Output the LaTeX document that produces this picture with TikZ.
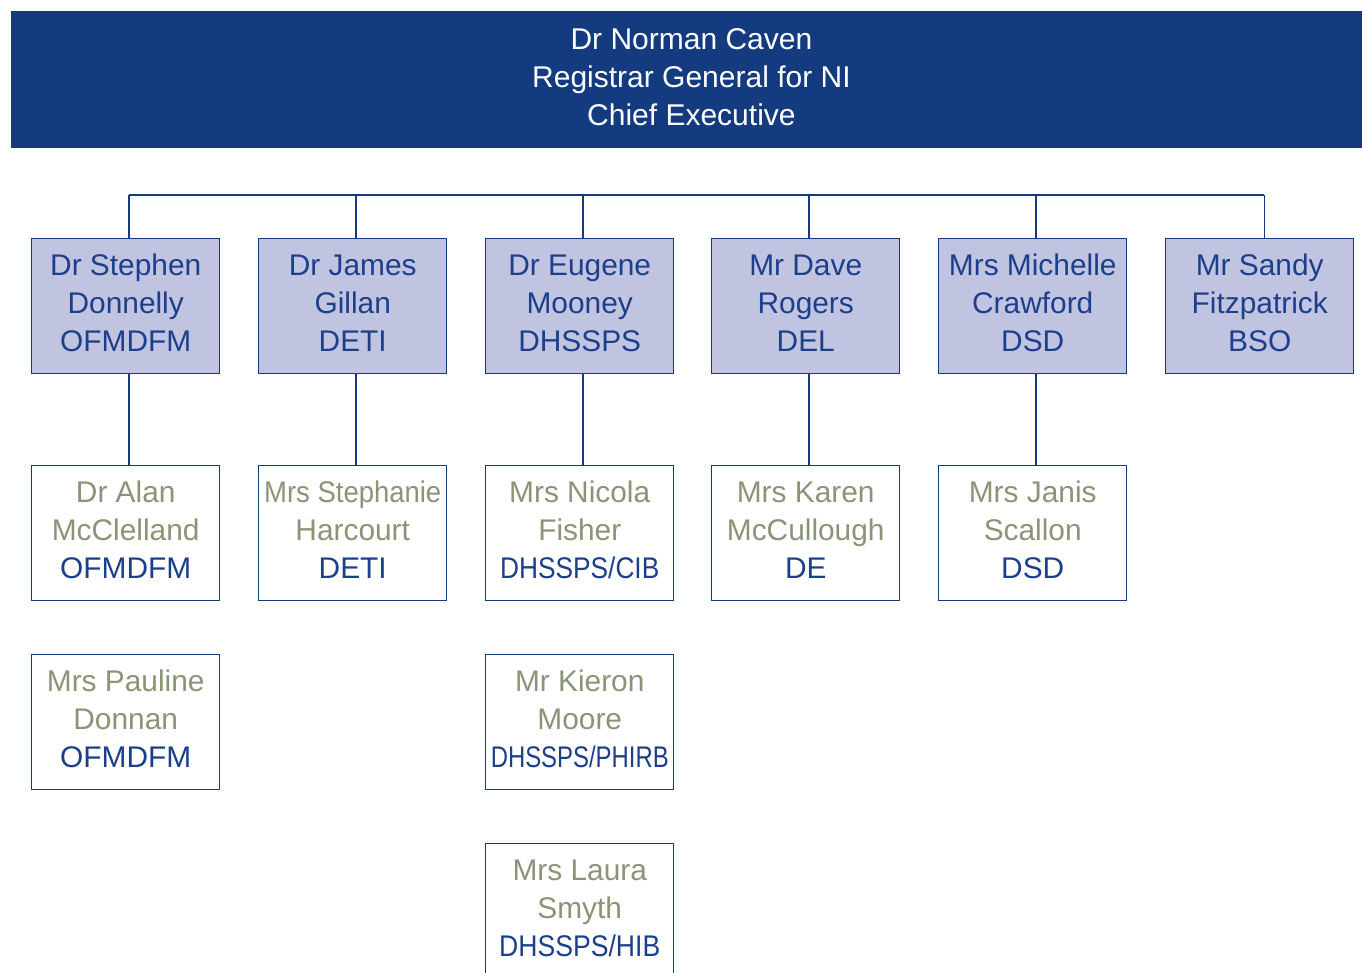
\documentclass[tikz,border=0pt]{standalone}
\usepackage{fontspec}
\usepackage{graphicx}
\setmainfont{Liberation Sans}
\definecolor{navy}{HTML}{143A80}
\definecolor{lav}{HTML}{C1C4E0}
\definecolor{olive}{HTML}{8A9577}
\definecolor{dept}{HTML}{1C3F8C}
\newcommand{\bxt}[1]{\raisebox{2.1pt}{\begin{tabular}{@{}c@{}}#1\end{tabular}}}
\begin{document}
\begin{tikzpicture}[x=0.75pt,y=-0.75pt,
  box/.style={draw=navy, line width=1.1pt, minimum width=141pt, minimum height=101.25pt,
    inner sep=0pt, align=center, font=\fontsize{22.4}{28.5}\selectfont, anchor=north west},
  headbox/.style={box, fill=lav, text=dept},
  subbox/.style={box, fill=white, text=olive},
  link/.style={draw=navy, line width=1.1pt}]
\useasboundingbox (0,0) rectangle (1362,972);
\clip (0,0) rectangle (1362,972);
\node[fill=navy, draw=none, minimum width=1013.25pt, minimum height=102.75pt, inner sep=0pt,
  anchor=north west, text=white, align=center, font=\fontsize{22.5}{28.8}\selectfont]
  (top) at (11,11) {\hspace*{7pt}\raisebox{2.3pt}{\begin{tabular}{@{}c@{}}Dr Norman Caven\\Registrar General for NI\\Chief Executive\end{tabular}}};
% row 1
\node[headbox] (s1) at (31,238)   {\bxt{Dr Stephen\\Donnelly\\OFMDFM}};
\node[headbox] (s2) at (258,238)  {\bxt{Dr James\\Gillan\\DETI}};
\node[headbox] (s3) at (485,238)  {\bxt{Dr Eugene\\Mooney\\DHSSPS}};
\node[headbox] (s4) at (711,238)  {\bxt{Mr Dave\\Rogers\\DEL}};
\node[headbox] (s5) at (938,238)  {\bxt{Mrs Michelle\\Crawford\\DSD}};
\node[headbox] (s6) at (1165,238) {\bxt{Mr Sandy\\Fitzpatrick\\BSO}};
% row 2
\node[subbox] (a1) at (31,465)  {\bxt{Dr Alan\\McClelland\\\textcolor{dept}{OFMDFM}}};
\node[subbox] (a2) at (258,465) {\bxt{\scalebox{0.92}[1]{Mrs Stephanie}\\Harcourt\\\textcolor{dept}{DETI}}};
\node[subbox] (a3) at (485,465) {\bxt{Mrs Nicola\\Fisher\\\textcolor{dept}{\scalebox{0.88}[1]{DHSSPS/CIB}}}};
\node[subbox] (a4) at (711,465) {\bxt{Mrs Karen\\McCullough\\\textcolor{dept}{DE}}};
\node[subbox] (a5) at (938,465) {\bxt{Mrs Janis\\Scallon\\\textcolor{dept}{DSD}}};
% row 3
\node[subbox] (b1) at (31,654)  {\bxt{Mrs Pauline\\Donnan\\\textcolor{dept}{OFMDFM}}};
\node[subbox] (b3) at (485,654) {\bxt{Mr Kieron\\Moore\\\textcolor{dept}{\scalebox{0.8}[1]{DHSSPS/PHIRB}}}};
% row 4
\node[subbox] (c3) at (485,843) {\bxt{Mrs Laura\\Smyth\\\textcolor{dept}{\scalebox{0.89}[1]{DHSSPS/HIB}}}};
% connectors
\coordinate (bus) at (0,195);
\draw[link] ([xshift=2.6pt]s1.north |- bus) -- ([xshift=3.4pt]s6.north |- bus);
\foreach \i in {1,...,5} {
  \draw[link] ([xshift=2.6pt]s\i.north) -- ([xshift=2.6pt]s\i.north |- bus);
  \draw[link] ([xshift=2.6pt]s\i.south) -- ([xshift=2.6pt]a\i.north);
}
\draw[link] ([xshift=3.4pt]s6.north) -- ([xshift=3.4pt]s6.north |- bus);
\end{tikzpicture}
\end{document}
